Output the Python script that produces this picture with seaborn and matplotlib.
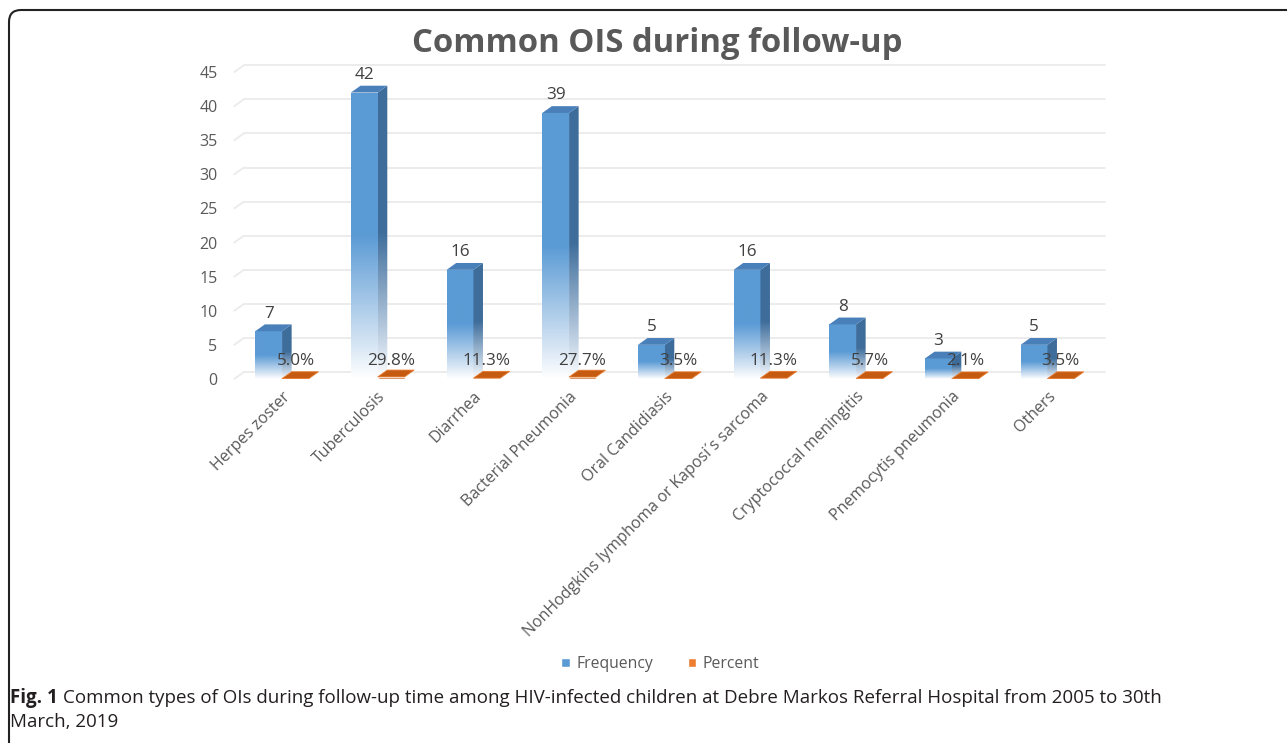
import numpy as np
import pandas as pd
import matplotlib
matplotlib.use('Agg')
import matplotlib.pyplot as plt
import seaborn as sns
from matplotlib.colors import LinearSegmentedColormap
from matplotlib.patches import Polygon, Patch, FancyBboxPatch
from matplotlib.transforms import IdentityTransform

categories = ["Herpes zoster", "Tuberculosis", "Diarrhea", "Bacterial Pneumonia",
              "Oral Candidiasis", "NonHodgkins lymphoma or Kaposi\u00b4s sarcoma",
              "Cryptococcal meningitis", "Pnemocytis pneumonia", "Others"]
frequency = [7, 42, 16, 39, 5, 16, 8, 3, 5]
percent = [5.0, 29.8, 11.3, 27.7, 3.5, 11.3, 5.7, 2.1, 3.5]
series = ["Frequency", "Percent"]

df = pd.DataFrame({
    'category': categories * 2,
    'series': [series[0]] * len(categories) + [series[1]] * len(categories),
    'value': frequency + [p / 100 for p in percent],
})

sns.set_style('white')
plt.rcParams['font.family'] = ['Open Sans', 'DejaVu Sans']

fig = plt.figure(figsize=(12.87, 7.43), dpi=100)
ax = fig.add_axes([0.182, 0.49, 0.669, 0.413])

sns.barplot(data=df, x='category', y='value', hue='series', hue_order=series,
            order=categories, width=0.56, gap=0, palette=['#5B9BD5', '#ED7D31'],
            legend=False, ax=ax, zorder=3)

dx, dy = 0.1, 1.0
grad = np.linspace(0, 1, 256).reshape(-1, 1)
front_cmap = LinearSegmentedColormap.from_list(
    'f', [(0, '#FFFFFF'), (0.12, '#D6E5F4'), (0.5, '#5B9BD5'), (1, '#5B9BD5')])
side_cmap = LinearSegmentedColormap.from_list(
    's', [(0, '#FFFFFF'), (0.12, '#C9D8E8'), (0.5, '#3E6D9B'), (1, '#3E6D9B')])

# blue 3d bars
for rect, v in zip(ax.containers[0], frequency):
    x0, w, h = rect.get_x(), rect.get_width(), rect.get_height()
    rect.set_facecolor('none')
    rect.set_edgecolor('none')
    im = ax.imshow(grad, extent=[x0, x0 + w, 0, h], aspect='auto', cmap=front_cmap,
                   origin='lower', zorder=3)
    im.set_clip_path(rect)
    side = Polygon([(x0 + w, 0), (x0 + w + dx, dy), (x0 + w + dx, h + dy), (x0 + w, h)],
                   closed=True, facecolor='none', edgecolor='none')
    ax.add_patch(side)
    im2 = ax.imshow(grad, extent=[x0 + w, x0 + w + dx, 0, h + dy], aspect='auto',
                    cmap=side_cmap, origin='lower', zorder=3)
    im2.set_clip_path(side)
    top = Polygon([(x0, h), (x0 + dx, h + dy), (x0 + w + dx, h + dy), (x0 + w, h)],
                  closed=True, facecolor='#4A80BA', edgecolor='none', zorder=3)
    ax.add_patch(top)
    ax.text(x0 + w / 2, h + dy + 0.4, str(v), ha='center', va='bottom',
            fontsize=12.3, color='#404040', zorder=5)

# orange flat bars
for rect, p in zip(ax.containers[1], percent):
    x0, w, h = rect.get_x(), rect.get_width(), rect.get_height()
    rect.set_facecolor('#C55A11')
    top = Polygon([(x0, h), (x0 + dx, h + dy), (x0 + w + dx, h + dy), (x0 + w, h)],
                  closed=True, facecolor='#C55A11', edgecolor='#E87A2E', lw=0.6, zorder=3)
    ax.add_patch(top)
    ax.text(x0 + w / 2, 2.6, f"{p:.1f}%", ha='center', va='center',
            fontsize=12.3, color='#404040', zorder=5)

xmin, xmax = -0.5, len(categories) - 0.5
ax.set_xlim(xmin, xmax)
ax.set_ylim(0, 45)
yt = list(range(0, 50, 5))
for v in yt:
    ax.plot([xmin, xmin + dx], [v, v + dy], color='#EBEBEB', lw=1.3, zorder=0, clip_on=False)
    ax.plot([xmin + dx, xmax + dx], [v + dy, v + dy], color='#EBEBEB', lw=1.3,
            zorder=0, clip_on=False)

ax.set_yticks(yt)
ax.set_yticklabels([str(v) for v in yt], fontsize=11.5, color='#595959')
ax.set_xticks(range(len(categories)))
ax.set_xticklabels(categories, fontsize=11.5, color='#595959', rotation=45,
                   ha='right', rotation_mode='anchor')
ax.tick_params(axis='y', length=0, pad=12)
ax.tick_params(axis='x', length=0, pad=7)
for lab in ax.get_xticklabels():
    lab.set_x(lab.get_position()[0])
ax.set_xlabel('')
ax.set_ylabel('')
sns.despine(ax=ax, left=True, bottom=True)
ax.grid(False)

fig.text(0.511, 0.941, "Common OIS during follow-up", ha='center', va='center',
         fontsize=23.7, fontweight='bold', color='#595959')

handles = [Patch(facecolor='#5B9BD5'), Patch(facecolor='#ED7D31')]
fig.legend(handles, series, loc='center', bbox_to_anchor=(0.513, 0.106), ncol=2,
           frameon=False, handlelength=0.55, handleheight=0.55, handletextpad=0.4,
           columnspacing=2.2, fontsize=11.3, labelcolor='#595959')

box = FancyBboxPatch((9, -60), 1400, 793, boxstyle='round,pad=0,rounding_size=12',
                     transform=IdentityTransform(), facecolor='none',
                     edgecolor='#222222', lw=1.5)
fig.add_artist(box)

cap_b = fig.text(0.008, 0.061, "Fig. 1", ha='left', va='center', fontsize=13.5,
                 fontweight='bold', color='#231F20')
fig.canvas.draw()
bb = cap_b.get_window_extent()
fig.text((bb.x1 + 5) / fig.bbox.width, 0.061,
         "Common types of OIs during follow-up time among HIV-infected children at "
         "Debre Markos Referral Hospital from 2005 to 30th",
         ha='left', va='center', fontsize=13.5, color='#231F20')
fig.text(0.008, 0.028, "March, 2019", ha='left', va='center', fontsize=13.5,
         color='#231F20')

fig.savefig('out.png', dpi=100)
